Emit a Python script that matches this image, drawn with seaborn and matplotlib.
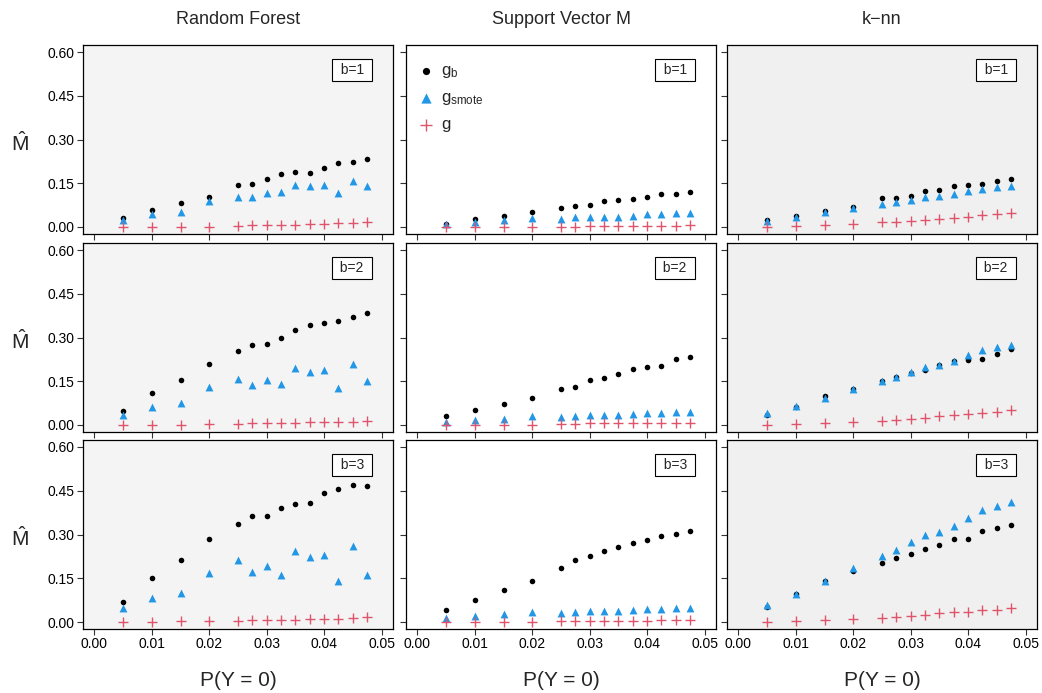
import matplotlib
matplotlib.use("Agg")
import matplotlib.pyplot as plt
import numpy as np
import pandas as pd
import seaborn as sns

# ---- data -------------------------------------------------------------
p_y0 = [0.005, 0.01, 0.015, 0.02, 0.025, 0.0275, 0.03, 0.0325, 0.035,
        0.0375, 0.04, 0.0425, 0.045, 0.0475]

classifiers = ["Random Forest", "Support Vector M", "k\u2212nn"]
b_levels = [1, 2, 3]
methods = ["gb", "gsmote", "g"]

# Random Forest
rf_b1_gb = [0.031, 0.057, 0.084, 0.103, 0.143, 0.148, 0.166, 0.181, 0.187, 0.186, 0.203, 0.220, 0.223, 0.233]
rf_b1_smote = [0.024, 0.043, 0.051, 0.089, 0.103, 0.103, 0.115, 0.119, 0.143, 0.140, 0.145, 0.116, 0.158, 0.142]
rf_b1_g = [0.001, 0.001, 0.001, 0.001, 0.005, 0.006, 0.007, 0.007, 0.007, 0.011, 0.012, 0.014, 0.015, 0.017]
rf_b2_gb = [0.048, 0.109, 0.156, 0.209, 0.253, 0.274, 0.278, 0.298, 0.325, 0.343, 0.351, 0.356, 0.372, 0.385]
rf_b2_smote = [0.036, 0.061, 0.076, 0.131, 0.159, 0.136, 0.153, 0.141, 0.194, 0.182, 0.189, 0.128, 0.210, 0.151]
rf_b2_g = [0.000, 0.000, 0.001, 0.002, 0.005, 0.006, 0.007, 0.007, 0.007, 0.009, 0.010, 0.011, 0.012, 0.015]
rf_b3_gb = [0.067, 0.152, 0.214, 0.286, 0.335, 0.364, 0.364, 0.391, 0.405, 0.407, 0.441, 0.456, 0.470, 0.466]
rf_b3_smote = [0.048, 0.082, 0.101, 0.169, 0.214, 0.172, 0.193, 0.161, 0.245, 0.224, 0.231, 0.139, 0.261, 0.161]
rf_b3_g = [0.001, 0.001, 0.002, 0.002, 0.003, 0.006, 0.006, 0.006, 0.006, 0.009, 0.010, 0.012, 0.014, 0.016]

# Support Vector Machine
svm_b1_gb = [0.012, 0.027, 0.037, 0.052, 0.065, 0.073, 0.076, 0.089, 0.092, 0.095, 0.103, 0.114, 0.114, 0.120]
svm_b1_smote = [0.012, 0.018, 0.024, 0.030, 0.028, 0.033, 0.035, 0.035, 0.036, 0.039, 0.043, 0.043, 0.047, 0.048]
svm_b1_g = [0.000, 0.000, 0.000, 0.001, 0.001, 0.001, 0.003, 0.002, 0.002, 0.003, 0.003, 0.005, 0.005, 0.007]
svm_b2_gb = [0.030, 0.050, 0.073, 0.092, 0.122, 0.132, 0.153, 0.160, 0.174, 0.191, 0.200, 0.203, 0.225, 0.234]
svm_b2_smote = [0.009, 0.017, 0.022, 0.030, 0.027, 0.032, 0.034, 0.035, 0.036, 0.039, 0.041, 0.041, 0.044, 0.045]
svm_b2_g = [0.000, 0.000, 0.001, 0.001, 0.003, 0.005, 0.006, 0.006, 0.006, 0.006, 0.006, 0.007, 0.007, 0.008]
svm_b3_gb = [0.040, 0.075, 0.109, 0.142, 0.185, 0.211, 0.226, 0.242, 0.256, 0.272, 0.282, 0.295, 0.301, 0.312]
svm_b3_smote = [0.014, 0.019, 0.026, 0.033, 0.032, 0.035, 0.037, 0.037, 0.039, 0.041, 0.044, 0.044, 0.048, 0.049]
svm_b3_g = [0.000, 0.001, 0.001, 0.001, 0.002, 0.002, 0.003, 0.003, 0.003, 0.005, 0.005, 0.006, 0.006, 0.007]

# k-nearest neighbours
knn_b1_gb = [0.023, 0.037, 0.055, 0.070, 0.098, 0.099, 0.108, 0.123, 0.127, 0.139, 0.144, 0.147, 0.159, 0.166]
knn_b1_smote = [0.022, 0.035, 0.050, 0.065, 0.080, 0.085, 0.094, 0.102, 0.107, 0.112, 0.123, 0.131, 0.136, 0.141]
knn_b1_g = [0.000, 0.002, 0.007, 0.010, 0.016, 0.018, 0.020, 0.024, 0.028, 0.032, 0.035, 0.040, 0.043, 0.049]
knn_b2_gb = [0.036, 0.062, 0.099, 0.124, 0.150, 0.163, 0.180, 0.189, 0.205, 0.219, 0.223, 0.227, 0.243, 0.261]
knn_b2_smote = [0.040, 0.066, 0.094, 0.124, 0.150, 0.165, 0.182, 0.199, 0.206, 0.219, 0.239, 0.256, 0.267, 0.276]
knn_b2_g = [0.001, 0.005, 0.007, 0.009, 0.015, 0.017, 0.020, 0.024, 0.030, 0.034, 0.039, 0.041, 0.043, 0.050]
knn_b3_gb = [0.052, 0.097, 0.139, 0.174, 0.203, 0.220, 0.234, 0.251, 0.264, 0.285, 0.286, 0.312, 0.324, 0.334]
knn_b3_smote = [0.058, 0.097, 0.139, 0.184, 0.226, 0.248, 0.273, 0.297, 0.309, 0.330, 0.357, 0.383, 0.399, 0.412]
knn_b3_g = [0.001, 0.002, 0.006, 0.009, 0.015, 0.016, 0.019, 0.023, 0.030, 0.033, 0.036, 0.040, 0.042, 0.048]

y_ticks = [0.00, 0.15, 0.30, 0.45, 0.60]
x_ticks = [0.00, 0.01, 0.02, 0.03, 0.04, 0.05]

series = {
    ("Random Forest", 1): (rf_b1_gb, rf_b1_smote, rf_b1_g),
    ("Random Forest", 2): (rf_b2_gb, rf_b2_smote, rf_b2_g),
    ("Random Forest", 3): (rf_b3_gb, rf_b3_smote, rf_b3_g),
    ("Support Vector M", 1): (svm_b1_gb, svm_b1_smote, svm_b1_g),
    ("Support Vector M", 2): (svm_b2_gb, svm_b2_smote, svm_b2_g),
    ("Support Vector M", 3): (svm_b3_gb, svm_b3_smote, svm_b3_g),
    ("k\u2212nn", 1): (knn_b1_gb, knn_b1_smote, knn_b1_g),
    ("k\u2212nn", 2): (knn_b2_gb, knn_b2_smote, knn_b2_g),
    ("k\u2212nn", 3): (knn_b3_gb, knn_b3_smote, knn_b3_g),
}

rows = []
for (clf, b), vals in series.items():
    for m, v in zip(methods, vals):
        for x, y in zip(p_y0, v):
            rows.append({"classifier": clf, "b": b, "method": m, "p": x, "M": y})
df = pd.DataFrame(rows)

# ---- styling ----------------------------------------------------------
sns.set_theme(style="ticks")
plt.rcParams["font.family"] = ["Liberation Sans", "DejaVu Sans"]
plt.rcParams["mathtext.fontset"] = "custom"
plt.rcParams["mathtext.rm"] = "Liberation Sans"
plt.rcParams["mathtext.it"] = "Liberation Sans"

panel_bg = {"Random Forest": "#f4f4f4", "Support Vector M": "#ffffff", "k\u2212nn": "#f0f0f0"}
style = {
    "gb": dict(marker="o", color="black", s=16, label=r"g$_\mathregular{b}$"),
    "gsmote": dict(marker="^", color="#2297E6", s=32, label=r"g$_\mathregular{smote}$"),
    "g": dict(marker="+", color="#DF536B", s=45, label="g"),
}

W, H = 1042, 693
fig = plt.figure(figsize=(W / 100, H / 100), dpi=100)
col_left = [83, 406, 727]
row_top = [45, 243, 440]
pw, ph = 310, 189

for ci, clf in enumerate(classifiers):
    for ri, b in enumerate(b_levels):
        ax = fig.add_axes([col_left[ci] / W, 1 - (row_top[ri] + ph) / H, pw / W, ph / H])
        ax.set_facecolor(panel_bg[clf])
        sub = df[(df.classifier == clf) & (df.b == b)]
        for m in methods:
            st = style[m]
            d = sub[sub.method == m]
            kw = dict(linewidth=0) if st["marker"] != "+" else dict(linewidth=1.0)
            sns.scatterplot(data=d, x="p", y="M", ax=ax, marker=st["marker"],
                            color=st["color"], s=st["s"], label=st["label"],
                            legend=(ci == 1 and ri == 0), **kw)
        ax.set_xlim(-0.002, 0.052)
        ax.set_ylim(-0.024, 0.624)
        ax.set_xticks(x_ticks)
        ax.set_yticks(y_ticks)
        ax.set_xlabel("")
        ax.set_ylabel("")
        ax.tick_params(direction="out", length=4, width=0.8, colors="#333333",
                       labelsize=10, labelcolor="black", pad=2)
        if ri == 2:
            ax.set_xticklabels([f"{t:.2f}" for t in x_ticks])
        else:
            ax.set_xticklabels([])
        if ci == 0:
            ax.set_yticklabels([f"{t:.2f}" for t in y_ticks])
        else:
            ax.set_yticklabels([])
        for sp in ax.spines.values():
            sp.set_visible(True)
            sp.set_color("black")
            sp.set_linewidth(0.9)
        ax.text(0.868, 0.868, f" b={b} ", transform=ax.transAxes, ha="center", va="center",
                fontsize=10, bbox=dict(boxstyle="square,pad=0.3", fc="white", ec="black", lw=0.8))
        if ci == 1 and ri == 0:
            ax.legend(loc="upper left", bbox_to_anchor=(0.0, 0.965), frameon=False, fontsize=12,
                      handletextpad=0.4, labelspacing=0.6, borderaxespad=0.4,
                      handlelength=1.0, markerscale=1.3, borderpad=0.3)
        elif ax.get_legend() is not None:
            ax.get_legend().remove()
        if ri == 0:
            fig.text((col_left[ci] + pw / 2) / W, 1 - 20 / H, clf, ha="center", va="center", fontsize=13)
        if ri == 2:
            fig.text((col_left[ci] + pw / 2) / W, 1 - 681 / H, "P(Y = 0)", ha="center",
                     va="center", fontsize=15)
        if ci == 0:
            fig.text(20 / W, 1 - (row_top[ri] + ph / 2 + 4) / H, r"$\hat{\mathregular{M}}$",
                     ha="center", va="center", fontsize=15)

fig.savefig("out.png", dpi=100)
